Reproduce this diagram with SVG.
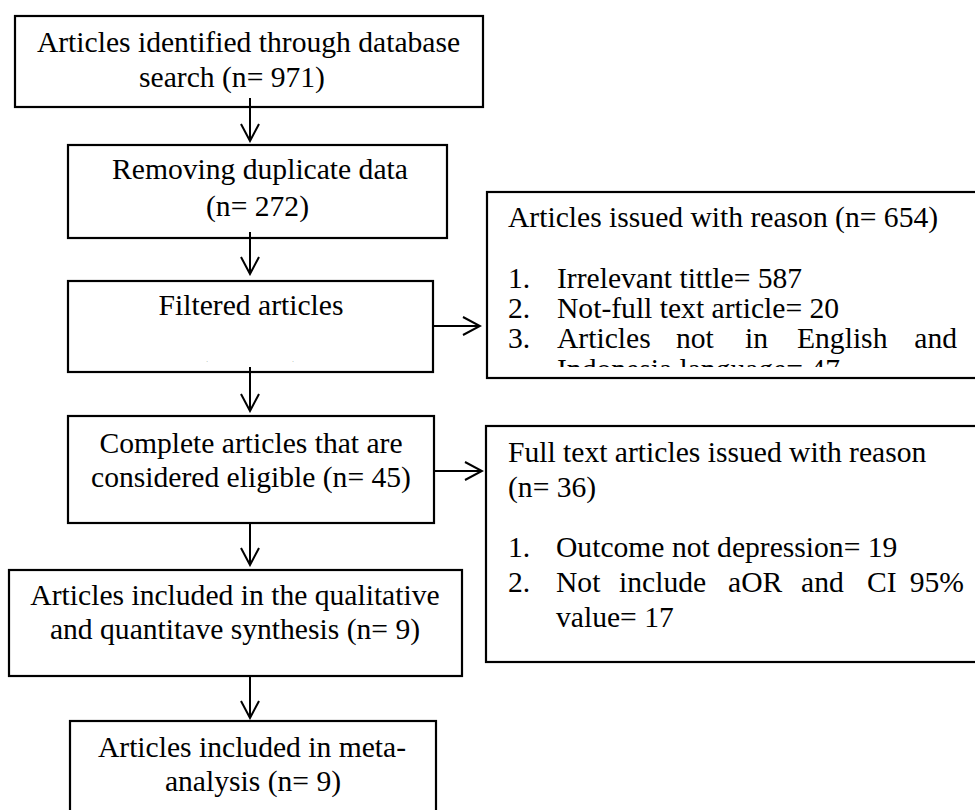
<svg xmlns="http://www.w3.org/2000/svg" width="975" height="810" viewBox="0 0 975 810">
<style>
.box{fill:none;stroke:#000;stroke-width:2.2}
.t{font-family:"Liberation Serif","Times New Roman",serif;font-size:29.6px;fill:#000}
.m{text-anchor:middle}
.e{text-anchor:end}
.c{fill:none;stroke:#000;stroke-width:2}
</style>
<defs>
<marker id="ah" markerUnits="userSpaceOnUse" viewBox="0 0 20 20" markerWidth="20" markerHeight="20" refX="18" refY="10" orient="auto">
<path d="M1,1 L18,10 L1,19" fill="none" stroke="#000" stroke-width="2"/>
</marker>
<clipPath id="clipF"><rect x="68" y="281" width="365" height="81"/></clipPath>
<clipPath id="clipA"><rect x="487" y="192" width="500" height="175"/></clipPath>
</defs>
<rect width="975" height="810" fill="#fff"/>

<g id="n1">
<rect class="box" x="15" y="16" width="468" height="91"/>
<text class="t m" x="248.5" y="52">Articles identified through database</text>
<text class="t m" x="232" y="87">search (n= 971)</text>
</g>

<g id="n2">
<rect class="box" x="68" y="145" width="379" height="93"/>
<text class="t m" x="260" y="179">Removing duplicate data</text>
<text class="t m" x="257.5" y="216">(n= 272)</text>
</g>

<g id="n3">
<rect class="box" x="68" y="281" width="365" height="91"/>
<text class="t m" x="251" y="315">Filtered articles</text>
<g clip-path="url(#clipF)"><text class="t m" x="250" y="382">(n= 699)</text></g>
</g>

<g id="n4">
<rect class="box" x="68" y="416" width="366" height="107"/>
<text class="t m" x="251" y="453">Complete articles that are</text>
<text class="t m" x="251" y="487">considered eligible (n= 45)</text>
</g>

<g id="n5">
<rect class="box" x="9" y="570" width="453" height="106"/>
<text class="t m" x="235" y="605">Articles included in the qualitative</text>
<text class="t m" x="235" y="639">and quantitave synthesis (n= 9)</text>
</g>

<g id="n6">
<rect class="box" x="70" y="721" width="366" height="110"/>
<text class="t m" x="252" y="757">Articles included in meta-</text>
<text class="t m" x="253" y="791">analysis (n= 9)</text>
</g>

<g id="nA">
<rect class="box" x="487" y="192" width="510" height="186"/>
<text class="t" x="508" y="227">Articles issued with reason (n= 654)</text>
<text class="t" x="508" y="288">1.</text>
<text class="t" x="557" y="288">Irrelevant tittle= 587</text>
<text class="t" x="508" y="318">2.</text>
<text class="t" x="557" y="318">Not-full text article= 20</text>
<text class="t" x="508" y="348">3.</text>
<text class="t" y="348"><tspan x="557">Articles</tspan><tspan x="676">not</tspan><tspan x="745">in</tspan><tspan x="797">English</tspan></text>
<text class="t e" x="957" y="348">and</text>
<g clip-path="url(#clipA)"><text class="t" x="557" y="379">Indonesia language= 47</text></g>
</g>

<g id="nB">
<rect class="box" x="486" y="426" width="510" height="236"/>
<text class="t" x="508" y="462">Full text articles issued with reason</text>
<text class="t" x="508" y="497">(n= 36)</text>
<text class="t" x="508" y="557">1.</text>
<text class="t" x="556" y="557">Outcome not depression= 19</text>
<text class="t" x="508" y="592">2.</text>
<text class="t" y="592"><tspan x="556">Not</tspan><tspan x="619">include</tspan><tspan x="728">aOR</tspan><tspan x="801">and</tspan><tspan x="867">CI</tspan></text>
<text class="t e" x="964" y="592">95%</text>
<text class="t" x="556" y="627">value= 17</text>
</g>

<g id="connectors">
<line class="c" x1="250" y1="98" x2="250" y2="141" marker-end="url(#ah)"/>
<line class="c" x1="250" y1="232" x2="250" y2="274" marker-end="url(#ah)"/>
<line class="c" x1="250" y1="367" x2="250" y2="411" marker-end="url(#ah)"/>
<line class="c" x1="250" y1="523" x2="250" y2="565" marker-end="url(#ah)"/>
<line class="c" x1="250" y1="676" x2="250" y2="718" marker-end="url(#ah)"/>
<line class="c" x1="433" y1="326" x2="480" y2="326" marker-end="url(#ah)"/>
<line class="c" x1="434" y1="471" x2="482" y2="471" marker-end="url(#ah)"/>
</g>
</svg>
